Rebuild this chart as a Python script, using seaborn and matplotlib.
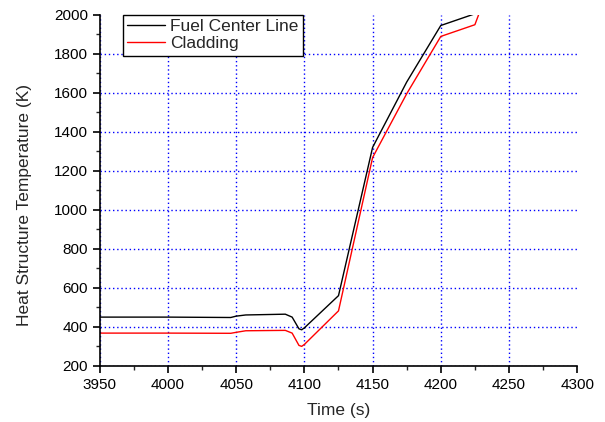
import pandas as pd
import matplotlib.pyplot as plt
import seaborn as sns
from matplotlib.ticker import MultipleLocator

# Values
fuel_time = [3950, 4000, 4046, 4050, 4057, 4086, 4091, 4096, 4098, 4100, 4125, 4150, 4175, 4200, 4225]
fuel_temp = [450, 450, 448, 455, 461, 465, 450, 390, 385, 395, 560, 1320, 1655, 1945, 2005]

clad_time = [3950, 4000, 4046, 4050, 4057, 4086, 4091, 4096, 4098, 4100, 4125, 4150, 4175, 4200, 4225, 4228]
clad_temp = [368, 368, 367, 372, 380, 382, 368, 305, 300, 310, 482, 1268, 1595, 1889, 1949, 2005]

series_names = ["Fuel Center Line", "Cladding"]

df = pd.concat([
    pd.DataFrame({"Time": fuel_time, "Temp": fuel_temp, "Series": series_names[0]}),
    pd.DataFrame({"Time": clad_time, "Temp": clad_temp, "Series": series_names[1]}),
])

sns.set_style("ticks")
plt.rcParams["font.family"] = ["Liberation Sans", "DejaVu Sans"]

fig = plt.figure(figsize=(6.05, 4.22), dpi=100)
ax = fig.add_axes([0.165, 0.133, 0.789, 0.832])

sns.lineplot(data=df, x="Time", y="Temp", hue="Series", hue_order=series_names,
             palette=["black", "red"], linewidth=1.0, sort=False, estimator=None, ax=ax)

ax.set_xlim(3950, 4300)
ax.set_ylim(200, 2000)
ax.xaxis.set_major_locator(MultipleLocator(50))
ax.xaxis.set_minor_locator(MultipleLocator(25))
ax.yaxis.set_major_locator(MultipleLocator(200))
ax.yaxis.set_minor_locator(MultipleLocator(100))
ax.grid(True, which="major", color="#0000ff", linestyle=(0, (1, 2)), linewidth=1.0)
ax.tick_params(which="major", direction="out", length=5, width=1.2, labelsize=11, colors="black")
ax.tick_params(which="minor", direction="out", length=3, width=1.0)

for side in ["top", "right"]:
    ax.spines[side].set_visible(False)
for side in ["left", "bottom"]:
    ax.spines[side].set_linewidth(1.2)
    ax.spines[side].set_color("black")

ax.set_xlabel("Time (s)", fontsize=12.5, labelpad=8)
ax.set_ylabel("Heat Structure Temperature (K)", fontsize=12.5)
ax.yaxis.set_label_coords(-0.143, 0.459)

leg = ax.legend(loc="upper left", bbox_to_anchor=(0.048, 1.0), fontsize=12.5,
                frameon=True, fancybox=False, framealpha=1, edgecolor="black",
                borderpad=0.25, labelspacing=0.12, handlelength=2.2, handletextpad=0.3,
                borderaxespad=0)
leg.get_frame().set_linewidth(1.0)

# no grid lines on the outer limits (4300 s, 2000 K)
fig.canvas.draw()
for t in ax.xaxis.get_major_ticks():
    if t.get_loc() >= 4299:
        t.gridline.set_visible(False)
for t in ax.yaxis.get_major_ticks():
    if t.get_loc() >= 1999:
        t.gridline.set_visible(False)

fig.savefig("out.png", dpi=100)
